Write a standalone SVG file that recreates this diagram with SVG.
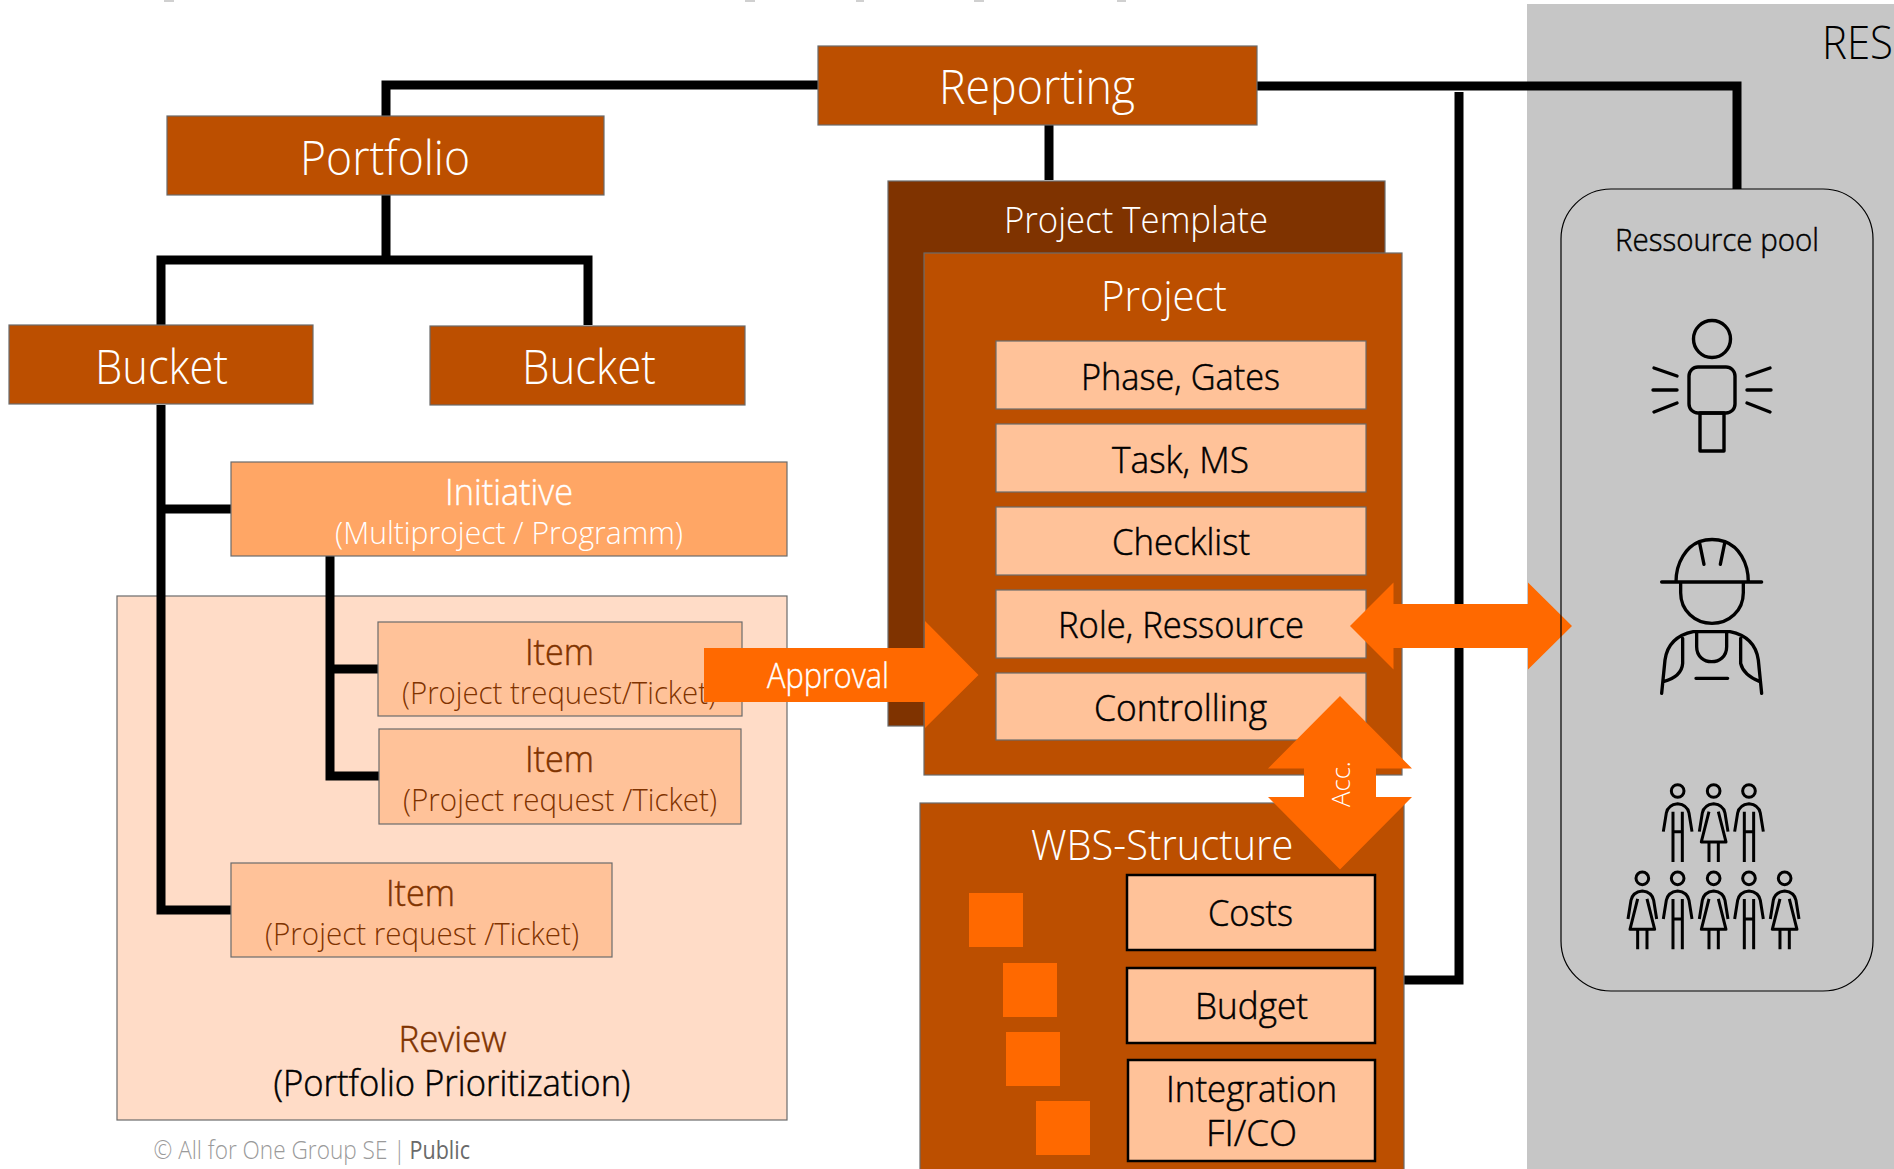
<svg xmlns="http://www.w3.org/2000/svg" width="1894" height="1169" viewBox="0 0 1894 1169">
<style>
text{font-family:"Open Sans","Noto Sans","Liberation Sans",sans-serif;font-weight:300}
.dark{fill:#BC4F00;stroke:#6b6b6b;stroke-width:1.2}
.tpl{fill:#7F3300;stroke:#6b6b6b;stroke-width:1.2}
.mid{fill:#FFA665;stroke:#6b6b6b;stroke-width:1.2}
.light{fill:#FFC299;stroke:#6b6b6b;stroke-width:1.2}
.black{fill:#FFC299;stroke:#000;stroke-width:2.5}
.pale{fill:#FFDCC7;stroke:#6b6b6b;stroke-width:1.2}
.arrow{fill:#FF6900}
.w{fill:#fff}.k{fill:#000;stroke:#000;stroke-width:.5}.b{fill:#7F3300;stroke:#7F3300;stroke-width:.5}
.t48{font-size:48px}.t42{font-size:42px}.t37{font-size:37px}.t32{font-size:32px}.t26{font-size:26px}
.conn{fill:none;stroke:#000;stroke-width:9;stroke-linejoin:miter}
.ico{fill:none;stroke:#000;stroke-width:3.4;stroke-linecap:round;stroke-linejoin:round}
.ppl{fill:none;stroke:#000;stroke-width:9;stroke-linejoin:round;stroke-linecap:butt}
.mark{fill:#d0d0d0}
</style>
<defs>
<g id="man" class="ppl"><circle cx="0" cy="0" r="19"/><path d="M-43,122L-34,66Q-29,41 0,38Q29,41 34,66L43,122M-14,62V213M14,62V213M-14,122H14"/></g>
<g id="woman" class="ppl"><circle cx="0" cy="0" r="19"/><path d="M-43,122L-34,66Q-29,41 0,38Q29,41 34,66L43,122M-14,62L-37,153H37L14,62M-14,153V213M14,153V213"/></g>
</defs>
<g id="top-marks"><rect class="mark" x="164" y="0" width="10" height="2"/><rect class="mark" x="745" y="0" width="10" height="2"/><rect class="mark" x="856" y="0" width="8" height="2"/><rect class="mark" x="974" y="0" width="10" height="2"/><rect class="mark" x="1117" y="0" width="9" height="2"/></g>
<g id="res-panel"><rect x="1527" y="4" width="367" height="1165" fill="#C6C6C6"/><text x="1822" y="59" textLength="71" lengthAdjust="spacingAndGlyphs" style="font-size:46px;fill:#000">RES</text></g>
<g id="review"><rect class="pale" x="117" y="596" width="670" height="524"/>
<text class="b t37" x="398.500" y="1052" textLength="108" lengthAdjust="spacingAndGlyphs">Review</text>
<text class="k t37" x="273.500" y="1096" textLength="357" lengthAdjust="spacingAndGlyphs">(Portfolio Prioritization)</text></g>
<g id="connectors">
<path class="conn" d="M386,116V85H818"/>
<path class="conn" d="M386,195V260M161,325V260H588V325"/>
<path class="conn" d="M161,405V910H231M161,509H231"/>
<path class="conn" d="M330,556V776H379M330,669H378"/>
<path class="conn" d="M1049,125V180"/>
<path class="conn" d="M1257,86H1737V189"/>
<path class="conn" d="M1459,92V980H1404"/>
</g>
<g id="template"><rect class="tpl" x="888" y="181" width="497" height="545"/><text class="w t37" x="1004" y="233" textLength="264" lengthAdjust="spacingAndGlyphs">Project Template</text></g>
<g id="reporting"><rect class="dark" x="818" y="46" width="439" height="79"/><text class="w t48" x="939" y="104" textLength="196" lengthAdjust="spacingAndGlyphs">Reporting</text></g>
<g id="portfolio"><rect class="dark" x="167" y="116" width="437" height="79"/><text class="w t48" x="300" y="175" textLength="170" lengthAdjust="spacingAndGlyphs">Portfolio</text></g>
<g id="bucket1"><rect class="dark" x="9" y="325" width="304" height="79"/><text class="w t48" x="95" y="384" textLength="133" lengthAdjust="spacingAndGlyphs">Bucket</text></g>
<g id="bucket2"><rect class="dark" x="430" y="326" width="315" height="79"/><text class="w t48" x="522" y="384" textLength="134" lengthAdjust="spacingAndGlyphs">Bucket</text></g>
<g id="initiative"><rect class="mid" x="231" y="462" width="556" height="94"/><text class="w t37" x="445" y="505" textLength="128" lengthAdjust="spacingAndGlyphs" style="stroke:#fff;stroke-width:.4">Initiative</text><text class="w t32" x="335" y="544" textLength="348" lengthAdjust="spacingAndGlyphs">(Multiproject / Programm)</text></g>
<g id="item1"><rect class="light" x="378" y="622" width="364" height="94"/><text class="b t37" x="525" y="664.500" textLength="69" lengthAdjust="spacingAndGlyphs">Item</text><text class="t32" x="402" y="704" textLength="314" lengthAdjust="spacingAndGlyphs" fill="#7F3300">(Project trequest/Ticket)</text></g>
<g id="item2"><rect class="light" x="379" y="729" width="362" height="95"/><text class="b t37" x="525" y="772" textLength="69" lengthAdjust="spacingAndGlyphs">Item</text><text class="t32" x="403" y="811" textLength="314" lengthAdjust="spacingAndGlyphs" fill="#7F3300">(Project request /Ticket)</text></g>
<g id="item3"><rect class="light" x="231" y="863" width="381" height="94"/><text class="b t37" x="386" y="906" textLength="69" lengthAdjust="spacingAndGlyphs">Item</text><text class="t32" x="265" y="945" textLength="314" lengthAdjust="spacingAndGlyphs" fill="#7F3300">(Project request /Ticket)</text></g>
<g id="project"><rect class="dark" x="924" y="253" width="478" height="522"/><text class="w t42" x="1101" y="311" textLength="126" lengthAdjust="spacingAndGlyphs">Project</text></g>
<g id="phase"><rect class="light" x="996" y="341" width="370" height="68"/><text class="k t37" x="1081" y="390" textLength="199" lengthAdjust="spacingAndGlyphs">Phase, Gates</text></g>
<g id="task"><rect class="light" x="996" y="424" width="370" height="68"/><text class="k t37" x="1112" y="473" textLength="137" lengthAdjust="spacingAndGlyphs">Task, MS</text></g>
<g id="checklist"><rect class="light" x="996" y="507" width="370" height="68"/><text class="k t37" x="1112" y="555" textLength="138" lengthAdjust="spacingAndGlyphs">Checklist</text></g>
<g id="role"><rect class="light" x="996" y="590" width="370" height="68"/><text class="k t37" x="1058" y="638" textLength="246" lengthAdjust="spacingAndGlyphs">Role, Ressource</text></g>
<g id="controlling"><rect class="light" x="996" y="673" width="370" height="67"/><text class="k t37" x="1094" y="720.500" textLength="173" lengthAdjust="spacingAndGlyphs">Controlling</text></g>
<g id="wbs"><rect class="dark" x="920" y="803" width="484" height="380"/><text class="w t42" x="1031" y="860" textLength="262.500" lengthAdjust="spacingAndGlyphs">WBS-Structure</text>
<rect class="arrow" x="969" y="893" width="54" height="54"/><rect class="arrow" x="1003" y="963" width="54" height="54"/><rect class="arrow" x="1006" y="1032" width="54" height="54"/><rect class="arrow" x="1036" y="1101" width="54" height="54"/></g>
<g id="costs"><rect class="black" x="1127" y="875" width="248" height="75"/><text class="k t37" x="1208" y="926" textLength="85" lengthAdjust="spacingAndGlyphs">Costs</text></g>
<g id="budget"><rect class="black" x="1127" y="968" width="248" height="75"/><text class="k t37" x="1195" y="1019" textLength="113" lengthAdjust="spacingAndGlyphs">Budget</text></g>
<g id="integration"><rect class="black" x="1128" y="1060" width="247" height="101"/><text class="k t37" x="1166" y="1102" textLength="171" lengthAdjust="spacingAndGlyphs">Integration</text><text class="k t37" x="1206" y="1146" textLength="91" lengthAdjust="spacingAndGlyphs">FI/CO</text></g>
<g id="approval"><polygon class="arrow" points="704,648 925,648 925,621 978.500,675 925,728 925,702 704,702"/><text class="w" x="767" y="688" textLength="122" lengthAdjust="spacingAndGlyphs" style="font-size:34px;stroke:#fff;stroke-width:.4">Approval</text></g>
<g id="role-arrow"><polygon class="arrow" points="1350,626 1393.500,582.500 1393.500,604 1528,604 1528,582.500 1572,626 1528,669.500 1528,648 1393.500,648 1393.500,669.500"/></g>
<g id="acc"><polygon class="arrow" points="1340,696 1412,768.500 1376,768.500 1376,797 1412,797 1340,869.500 1268,797 1304,797 1304,768.500 1268,768.500"/><text class="w t26" transform="translate(1350,807) rotate(-90)" x="0" y="0" textLength="46" lengthAdjust="spacingAndGlyphs">Acc.</text></g>
<g id="pool"><rect x="1561" y="189" width="312" height="802" rx="50" ry="50" fill="none" stroke="#000" stroke-width="1.200"/><text class="k t32" x="1615" y="251" textLength="204" lengthAdjust="spacingAndGlyphs">Ressource pool</text></g>
<g id="icon-person" class="ico"><circle cx="1712" cy="339" r="18.500"/><rect x="1689" y="367" width="46" height="46" rx="9"/><rect x="1700" y="413" width="24" height="38"/><path d="M1654,368L1677,376M1653,390H1677M1654,412L1677,403M1770,368L1747,376M1771,390H1747M1770,412L1747,403"/></g>
<g id="icon-worker" transform="translate(1580,500) scale(.3333)" style="fill:none;stroke:#000;stroke-width:10;stroke-linecap:round;stroke-linejoin:round">
<path d="M245,246H545M288,246C288,185 320,140 358,125Q396,112 435,125C475,140 505,185 505,246M358,125L372,193M435,125L421,193M302,246V278C302,332 345,370 396,370C447,370 490,332 490,278V246"/>
<path d="M245,580L255,480Q265,410 340,395H450Q525,410 535,480L545,580M350,395V440C350,500 440,500 440,440V395M348,535H443M308,415V490Q305,530 250,545M482,415V490Q490,525 540,545"/></g>
<g id="icon-people" transform="translate(1580,500) scale(.3333)">
<use href="#man" x="293" y="873"/><use href="#woman" x="401" y="873"/><use href="#man" x="507" y="873"/>
<use href="#woman" x="187" y="1135"/><use href="#man" x="293" y="1135"/><use href="#woman" x="401" y="1135"/><use href="#man" x="507" y="1135"/><use href="#woman" x="614" y="1135"/>
</g>
<g id="footer"><text class="t26" x="153.500" y="1159" textLength="252" lengthAdjust="spacingAndGlyphs" fill="#9a9a9a">© All for One Group SE |</text><text class="t26" x="409.500" y="1159" textLength="60.500" lengthAdjust="spacingAndGlyphs" fill="#6a6a6a" style="font-weight:400">Public</text></g>
</svg>
